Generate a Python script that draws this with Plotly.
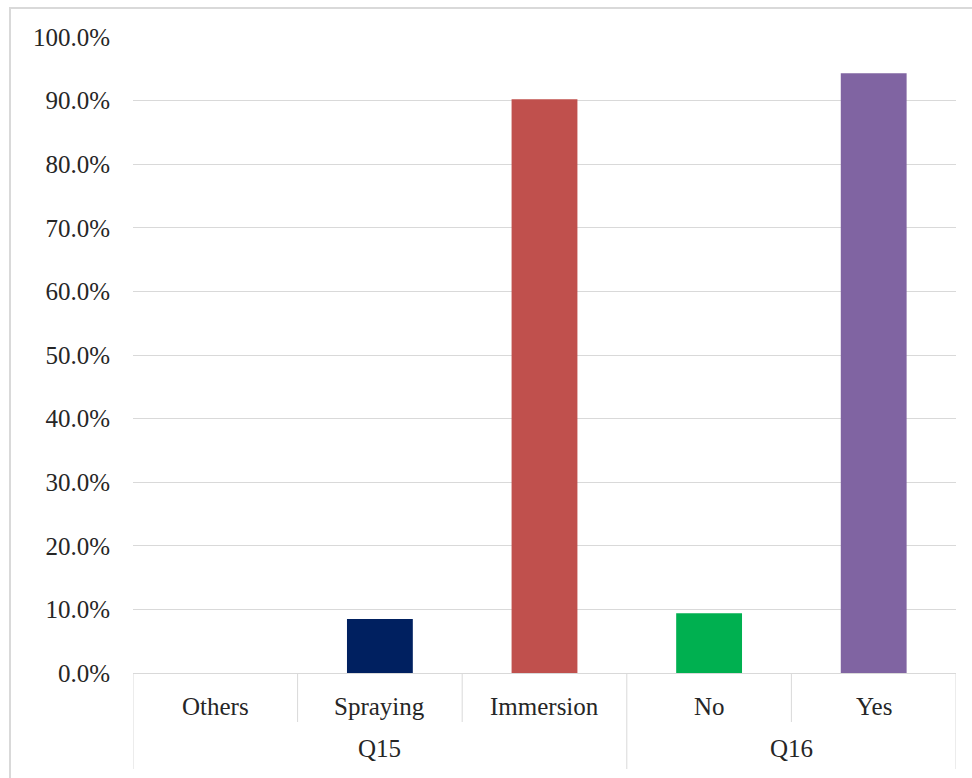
import plotly.graph_objects as go

categories = ["Others", "Spraying", "Immersion", "No", "Yes"]
groups = ["Q15", "Q15", "Q15", "Q16", "Q16"]
values = [0.0, 8.5, 90.2, 9.4, 94.3]
colors = ["#4F81BD", "#002060", "#C0504D", "#00B050", "#8064A2"]
tick_vals = [0, 10, 20, 30, 40, 50, 60, 70, 80, 90, 100]
tick_text = [f"{v:.1f}%" for v in tick_vals]

W, H = 972, 778
L, R, T, B = 133, 16, 37, 105
plot_w = W - L - R
plot_h = H - T - B

def py(px_below_axis):
    # paper y for a pixel offset below the x axis
    return -px_below_axis / plot_h

FONT = "Times New Roman, Liberation Serif, serif"
TXT = "#262626"
LINE = "#d9d9d9"

x = list(range(len(categories)))
fig = go.Figure(go.Bar(x=x, y=values, marker=dict(color=colors, line=dict(width=0)),
                       width=0.4, showlegend=False))

shapes = []
annotations = []
# inner separators (row 1)
n = len(categories)
for i in range(n - 1):
    same_group = groups[i] == groups[i + 1]
    shapes.append(dict(type="line", xref="x", yref="paper", x0=i + 0.5, x1=i + 0.5,
                       y0=0, y1=py(49) if same_group else py(96),
                       line=dict(color=LINE, width=1)))
for xe in (-0.5, n - 0.5):
    shapes.append(dict(type="line", xref="x", yref="paper", x0=xe, x1=xe,
                       y0=0, y1=py(96), line=dict(color=LINE, width=1)))
# outer border of chart
shapes.append(dict(type="rect", xref="paper", yref="paper",
                   x0=(10 - L) / plot_w, x1=(W + 5 - L) / plot_w,
                   y0=(T + plot_h - (H + 5)) / plot_h, y1=(T + plot_h - 8) / plot_h,
                   line=dict(color=LINE, width=2), fillcolor="rgba(0,0,0,0)", layer="below"))

for i, c in enumerate(categories):
    annotations.append(dict(x=i, y=py(33), xref="x", yref="paper", text=c, showarrow=False,
                            font=dict(family=FONT, size=25, color=TXT), yanchor="middle"))
# group labels
seen = []
for g in groups:
    if g not in seen:
        seen.append(g)
for g in seen:
    idx = [i for i, gg in enumerate(groups) if gg == g]
    annotations.append(dict(x=(idx[0] + idx[-1]) / 2, y=py(75), xref="x", yref="paper", text=g,
                            showarrow=False, font=dict(family=FONT, size=25, color=TXT),
                            yanchor="middle"))

fig.update_layout(
    width=W, height=H,
    margin=dict(l=L, r=R, t=T, b=B),
    paper_bgcolor="white", plot_bgcolor="white",
    font=dict(family=FONT, size=25, color=TXT),
    xaxis=dict(range=[-0.5, n - 0.5], showticklabels=False, showgrid=False, zeroline=False,
               showline=True, linecolor=LINE, linewidth=1, fixedrange=True),
    yaxis=dict(range=[0, 100], tickvals=tick_vals, ticktext=tick_text, showgrid=True,
               gridcolor=LINE, gridwidth=1, zeroline=False, showline=False,
               ticks="", ticklabelstandoff=22, tickfont=dict(family=FONT, size=25, color=TXT)),
    shapes=shapes, annotations=annotations,
    bargap=0.6,
)

fig.write_html("out.html")
